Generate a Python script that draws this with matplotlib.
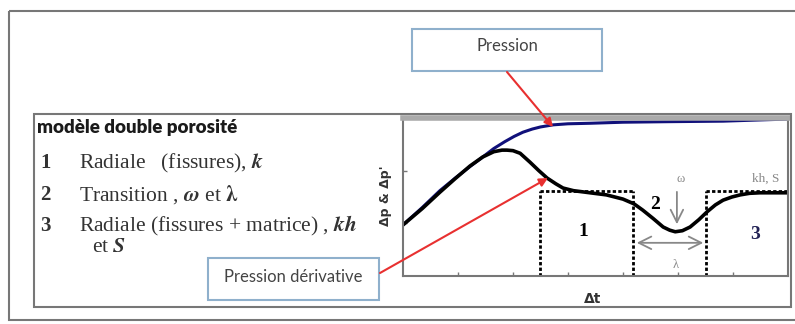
import numpy as np
import matplotlib
matplotlib.use("Agg")
import matplotlib.pyplot as plt
from matplotlib.patches import Rectangle

# pression (courbe bleue)
p_t = [0.0, 0.35, 0.67, 0.95, 1.22, 1.45, 1.65, 1.85, 2.02, 2.18, 2.35, 2.5, 2.73, 3.0, 3.4, 4.0, 4.8, 5.82, 6.4, 7.0]
p_val = [0.97, 1.3, 1.62, 1.86, 2.08, 2.26, 2.42, 2.55, 2.65, 2.73, 2.79, 2.83, 2.87, 2.89, 2.9, 2.92, 2.93, 2.94, 2.96, 2.98]

# pression derivee (courbe noire)
d_t = [0.0, 0.35, 0.67, 0.95, 1.22, 1.45, 1.65, 1.8, 1.89, 2.0, 2.13, 2.31, 2.47, 2.62, 2.78, 2.91, 3.1, 3.4, 3.7, 4.0, 4.2,
       4.36, 4.55, 4.73, 4.85, 4.95, 5.08, 5.22, 5.38, 5.53, 5.68, 5.82, 5.98, 6.13, 6.3, 6.49, 7.0]
d_val = [0.97, 1.28, 1.59, 1.85, 2.09, 2.26, 2.36, 2.39, 2.39, 2.38, 2.33, 2.16, 2.0, 1.86, 1.75, 1.67, 1.62, 1.58, 1.54, 1.46, 1.37,
         1.25, 1.09, 0.93, 0.87, 0.84, 0.86, 0.93, 1.07, 1.22, 1.35, 1.44, 1.5, 1.54, 1.57, 1.58, 1.58]

# regimes : limites des zones et niveau du plateau
zone_x = [2.49, 4.18, 5.51]
plateau = 1.61
zone_lbl = ['1', '2', '3']
zone_pos = [(3.27, 0.84), (4.58, 1.35), (6.4, 0.78)]

titre = u'modèle double porosité'
lignes = [('1', u'Radiale   (fissures), $\\boldsymbol{k}$'),
          ('2', u'Transition , $\\boldsymbol{\\omega}$ et $\\boldsymbol{\\lambda}$'),
          ('3', u'Radiale (fissures + matrice) , $\\boldsymbol{kh}$')]

W, H = 795, 324
fig = plt.figure(figsize=(W / 100, H / 100), dpi=100)
plt.rcParams['mathtext.fontset'] = 'stix'

def box(px0, py0, px1, py1):
    # position en fraction de figure a partir des pixels
    return [px0 / W, 1 - py1 / H, (px1 - px0) / W, (py1 - py0) / H]

# graphe
ax = fig.add_axes(box(403, 118, 788, 276))
ax.plot(p_t, p_val, color='#10107a', lw=2.2, solid_capstyle='round')
ax.plot(d_t, d_val, color='black', lw=2.6, solid_capstyle='round')
ax.set_xlim(0, 7)
ax.set_ylim(0, 3)
ax.set_xticks([1, 2, 3, 4, 5, 6])
ax.set_yticks([1, 2])
ax.tick_params(direction='in', length=3, width=1, colors='#777777', labelleft=False, labelbottom=False)
for s in ax.spines.values():
    s.set_color('#777777')
    s.set_linewidth(1.5)
ax.spines['top'].set_linewidth(4)
ax.spines['top'].set_color('#aaaaaa')

ls = (0, (1.2, 0.8))
ax.plot([zone_x[0], zone_x[1]], [plateau, plateau], color='black', lw=2, ls=ls)
ax.plot([zone_x[2], 7], [plateau, plateau], color='black', lw=2, ls=ls)
for x in zone_x:
    ax.plot([x, x], [0, plateau], color='black', lw=2, ls=ls)
for lbl, (x, y) in zip(zone_lbl, zone_pos):
    col = '#222255' if lbl == '3' else 'black'
    ax.text(x, y, lbl, fontsize=14, family='Liberation Serif', weight='bold', color=col, ha='center', va='center')

ax.annotate('', xy=(4.98, 0.93), xytext=(4.98, 1.65),
            arrowprops=dict(arrowstyle='->,head_length=0.9,head_width=0.45', color='#888888', lw=1.3))
ax.text(5.04, 1.85, u'ω', fontsize=9, family='Liberation Serif', color='#888888', ha='center', va='center')
ax.text(6.35, 1.85, 'kh, S', fontsize=9.5, family='Liberation Serif', color='#888888', ha='left', va='center')
ax.annotate('', xy=(4.2, 0.63), xytext=(5.51, 0.63),
            arrowprops=dict(arrowstyle='<->,head_length=0.9,head_width=0.45', color='#888888', lw=1.3))
ax.text(4.96, 0.2, u'λ', fontsize=9, family='Liberation Serif', color='#888888', ha='center', va='center')

# calque en pixels pour les cadres, textes et fleches rouges
ov = fig.add_axes([0, 0, 1, 1])
ov.set_xlim(0, W)
ov.set_ylim(H, 0)
ov.axis('off')
ov.add_patch(Rectangle((9, 11), 790, 309, fill=False, ec='#777777', lw=1.5))
ov.add_patch(Rectangle((34, 114), 757, 193, fill=False, ec='#777777', lw=1.5))

ov.text(37, 127, titre, fontsize=13.5, family='Lato', weight='heavy', color='#1a1a1a', va='center')
ys = [163, 195, 226]
for (n, t), y in zip(lignes, ys):
    ov.text(40, y, n, fontsize=15, family='Liberation Serif', weight='bold', color='#333333', va='center')
    ov.text(79, y, t, fontsize=15.5, family='Liberation Serif', color='#333333', va='center')
ov.text(92, 248, u'et $\\boldsymbol{S}$', fontsize=15.5, family='Liberation Serif', color='#333333', va='center')

ov.text(385, 196, u"Δp & Δp'", fontsize=9, family='DejaVu Sans', weight='bold', rotation=90,
        color='#333333', ha='center', va='center')
ov.text(593, 299, u'Δt', fontsize=10, family='DejaVu Sans', weight='bold', color='#333333', ha='center', va='center')

ov.add_patch(Rectangle((412, 29), 190, 42, fc='white', ec='#8fb0cc', lw=1.5, zorder=3))
ov.text(507, 46, 'Pression', fontsize=12, family='Lato', color='#444444', ha='center', va='center', zorder=4)
ov.add_patch(Rectangle((208, 258), 171, 42, fc='white', ec='#8fb0cc', lw=1.5, zorder=3))
ov.text(293, 277, u'Pression dérivative', fontsize=12, family='Lato', color='#444444', ha='center', va='center', zorder=4)

rouge = dict(arrowstyle='-|>,head_length=0.5,head_width=0.25', color='#e83030', lw=1.5, shrinkA=0, shrinkB=0)
ov.annotate('', xy=(553, 127), xytext=(507, 72), arrowprops=rouge, zorder=5)
ov.annotate('', xy=(548, 178), xytext=(380, 273), arrowprops=rouge, zorder=5)

fig.savefig('out.png', dpi=100)
